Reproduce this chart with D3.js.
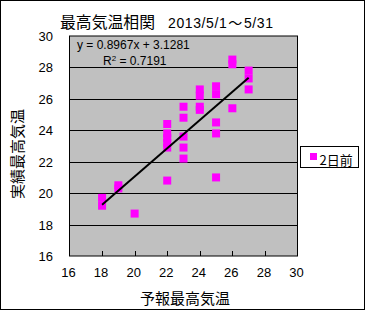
<!DOCTYPE html>
<html><head><meta charset="utf-8">
<script src="https://cdn.jsdelivr.net/npm/d3@7"></script>
<style>html,body{margin:0;padding:0;background:#fff;}svg{display:block;}</style>
</head><body>
<script>
// Data: forecast max temp (x) vs actual max temp (y), 2 days before
const forecastX = [18,18,19,19,20,22,22,22,22,22,22,23,23,23,23,23,24,24,24,24,25,25,25,25,25,26,26,26,27,27,27];
const actualY  = [19.7,19.2,20.5,20.3,18.7,24.4,23.8,23.5,23.2,22.9,20.8,25.5,24.8,23.6,22.9,22.2,26.6,26.2,25.5,25.3,26.8,26.3,24.5,23.8,21.0,28.5,28.2,25.4,27.8,27.3,26.6];
const xTicks = [16,18,20,22,24,26,28,30];
const yTicks = [16,18,20,22,24,26,28,30];
const trendSlope = 0.8967, trendIntercept = 3.1281, trendR2 = 0.7191;
const seriesName = "2日前";
const titleMain = "最高気温相関";
const titleDateParts = ["2013/5/1", "～", "5/31"];
const xTitle = "予報最高気温", yTitle = "実績最高気温";

const W = 365, H = 310;
const svg = d3.select("body").append("svg").attr("width", W).attr("height", H);
svg.append("rect").attr("x",0.5).attr("y",0.5).attr("width",W-1).attr("height",H-1)
  .attr("fill","#fff").attr("stroke","#000");

const x = d3.scaleLinear().domain([16,30]).range([69.5,297.5]);
const y = d3.scaleLinear().domain([16,30]).range([256,36]);
const numFont = "'Liberation Sans', Arial, sans-serif";
const cjkFont = "'Noto Sans CJK JP', sans-serif";

// plot area
svg.append("rect").attr("x",x(16)).attr("y",y(30)).attr("width",x(30)-x(16)).attr("height",y(16)-y(30))
  .attr("fill","#C0C0C0");
// gridlines
svg.append("g").selectAll("line").data(yTicks.filter(t=>t>16&&t<30)).join("line")
  .attr("x1",x(16)).attr("x2",x(30)).attr("y1",d=>Math.round(y(d))+0.5).attr("y2",d=>Math.round(y(d))+0.5)
  .attr("stroke","#000").attr("stroke-width",1);
// x ticks inward
svg.append("g").selectAll("line").data(xTicks.filter(t=>t>16&&t<30)).join("line")
  .attr("x1",d=>Math.round(x(d))+0.5).attr("x2",d=>Math.round(x(d))+0.5)
  .attr("y1",y(16)).attr("y2",y(16)-5).attr("stroke","#000");
// border
svg.append("rect").attr("x",x(16)).attr("y",y(30)).attr("width",x(30)-x(16)).attr("height",y(16)-y(30))
  .attr("fill","none").attr("stroke","#000");

// tick labels
svg.append("g").selectAll("text").data(yTicks).join("text")
  .attr("x",53).attr("y",d=>y(d)+5).attr("text-anchor","end")
  .attr("font-family",numFont).attr("font-size",13).text(d=>d);
svg.append("g").selectAll("text").data(xTicks).join("text")
  .attr("x",d=>x(d)-1).attr("y",277).attr("text-anchor","middle")
  .attr("font-family",numFont).attr("font-size",13).text(d=>d);

// points
svg.append("g").selectAll("rect").data(forecastX.map((v,i)=>[v,actualY[i]])).join("rect")
  .attr("x",d=>x(d[0])-4).attr("y",d=>y(d[1])-4).attr("width",8).attr("height",8)
  .attr("fill","#FF00FF");

// trendline
const xmin = d3.min(forecastX), xmax = d3.max(forecastX);
svg.append("line").attr("x1",x(xmin)).attr("y1",y(trendSlope*xmin+trendIntercept))
  .attr("x2",x(xmax)).attr("y2",y(trendSlope*xmax+trendIntercept))
  .attr("stroke","#000").attr("stroke-width",2);

// equation
svg.append("text").attr("x",77).attr("y",48.5).attr("font-family",numFont).attr("font-size",12)
  .text(`y = ${trendSlope}x + ${trendIntercept}`);
const r2 = svg.append("text").attr("x",103).attr("y",65).attr("font-family",numFont).attr("font-size",12);
r2.append("tspan").text("R");
r2.append("tspan").attr("font-size",8).attr("dy",-4).text("2");
r2.append("tspan").attr("dy",4).text(` = ${trendR2}`);

// title
svg.append("text").attr("x",60).attr("y",28).attr("font-family",cjkFont).attr("font-size",16)
  .attr("textLength",95).attr("lengthAdjust","spacingAndGlyphs").text(titleMain);
const td = svg.append("text").attr("x",168).attr("y",28).attr("font-family",numFont).attr("font-size",14)
  .attr("letter-spacing",0.6);
td.append("tspan").text(titleDateParts[0]);
td.append("tspan").attr("font-family",cjkFont).attr("font-size",14).attr("dx",1).text(titleDateParts[1]);
td.append("tspan").attr("dx",1).text(titleDateParts[2]);

// axis titles
svg.append("text").attr("x",185).attr("y",304).attr("text-anchor","middle")
  .attr("font-family",cjkFont).attr("font-size",15).text(xTitle);
svg.append("text").attr("transform","translate(23,154) rotate(-90)").attr("text-anchor","middle")
  .attr("font-family",cjkFont).attr("font-size",15).text(yTitle);

// legend
svg.append("rect").attr("x",300.5).attr("y",146.5).attr("width",58).attr("height",21)
  .attr("fill","#fff").attr("stroke","#000");
svg.append("rect").attr("x",310).attr("y",153).attr("width",7).attr("height",7).attr("fill","#FF00FF");
svg.append("text").attr("x",319.5).attr("y",164.5).attr("font-family",cjkFont).attr("font-size",13)
  .text(seriesName);
</script>
</body></html>
